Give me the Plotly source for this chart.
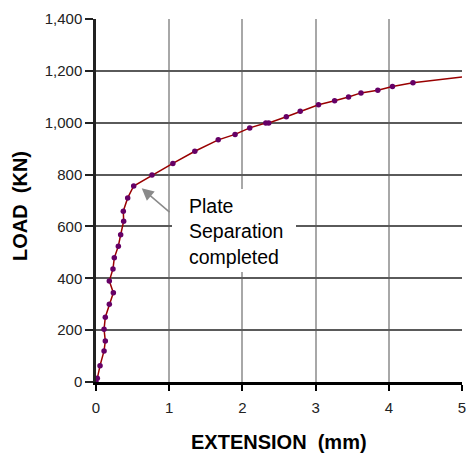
import plotly.graph_objects as go

# Measured load-extension points
extension = [0, 0.018, 0.055, 0.11, 0.127, 0.11, 0.127, 0.182, 0.237, 0.182, 0.232,
             0.25, 0.305, 0.337, 0.378, 0.373, 0.433, 0.515, 0.765, 1.05, 1.35, 1.67,
             1.90, 2.10, 2.32, 2.36, 2.60, 2.79, 3.04, 3.26, 3.45, 3.62, 3.85, 4.05, 4.33]
load = [0, 14, 63, 120, 158, 203, 250, 300, 344, 390, 436, 479, 524, 568, 620, 659,
        710, 756, 798, 843, 890, 934, 955, 980, 999, 999, 1023, 1044, 1069, 1085,
        1099, 1115, 1125, 1140, 1154]
# Curve continuation (line only, no marker)
curve_end_x = [4.33, 5.0]
curve_end_y = [1154, 1176]

x_ticks = [0, 1, 2, 3, 4, 5]
y_ticks = [0, 200, 400, 600, 800, 1000, 1200, 1400]

FONT = "Arial, Liberation Sans, sans-serif"

fig = go.Figure()
fig.add_trace(go.Scatter(x=curve_end_x, y=curve_end_y, mode="lines",
                         line=dict(color="#990000", width=1.5), showlegend=False))
fig.add_trace(go.Scatter(x=extension, y=load, mode="lines+markers",
                         line=dict(color="#990000", width=1.5),
                         marker=dict(color="#660066", size=5.5),
                         showlegend=False))

fig.update_layout(
    width=466, height=454,
    margin=dict(l=96, r=4, t=19, b=72, autoexpand=False),
    paper_bgcolor="white", plot_bgcolor="white",
    font=dict(family=FONT, color="#222", size=15),
    xaxis=dict(range=[0, 5], tickvals=x_ticks, showgrid=True, gridcolor="#a8a8a8",
               gridwidth=1.5, zeroline=False, showline=True, linecolor="black",
               linewidth=2.5, ticks="outside", ticklen=6, tickwidth=2,
               tickcolor="black", tickfont=dict(size=15, family=FONT),
               ticklabeloverflow="allow", ticklabelstandoff=4, automargin=False),
    yaxis=dict(range=[0, 1400], tickvals=y_ticks, tickformat=",d", showgrid=True,
               gridcolor="#5a5a5a", gridwidth=1.5, zeroline=False, showline=True,
               linecolor="#222", linewidth=2.5, ticks="outside", ticklen=8,
               tickwidth=2, tickcolor="#222", tickfont=dict(size=15, family=FONT),
               automargin=False),
    shapes=[dict(type="rect", xref="paper", yref="paper",
                 x0=(172 - 96) / 366, x1=(296 - 96) / 366,
                 y0=(382 - 272) / 363, y1=(382 - 189) / 363,
                 fillcolor="white", line=dict(width=0), layer="above")],
    annotations=[
        dict(x=0.5, y=(382 - 442) / 363, xref="paper", yref="paper",
             text="<b>EXTENSION\u00a0\u00a0(mm)</b>", showarrow=False,
             font=dict(size=20, family=FONT, color="black"),
             xanchor="center", yanchor="middle"),
        dict(x=(20 - 96) / 366, y=(382 - 206) / 363, xref="paper", yref="paper",
             text="<b>LOAD\u00a0\u00a0(KN)</b>", showarrow=False, textangle=-90,
             font=dict(size=20, family=FONT, color="black"),
             xanchor="center", yanchor="middle"),
        dict(x=(187 - 96) / 366, y=(382 - 231) / 363, xref="paper", yref="paper",
             text="Plate<br>Separation<br>completed", showarrow=False, align="left",
             font=dict(size=19.5, family=FONT, color="black"),
             xanchor="left", yanchor="middle"),
        dict(x=0.624, y=747, xref="x", yref="y", ax=1.025, ay=650,
             axref="x", ayref="y", text="", showarrow=True, arrowhead=2,
             arrowsize=1.6, arrowwidth=1.5, arrowcolor="#8a8a8a"),
    ],
)

fig.write_html("out.html")
